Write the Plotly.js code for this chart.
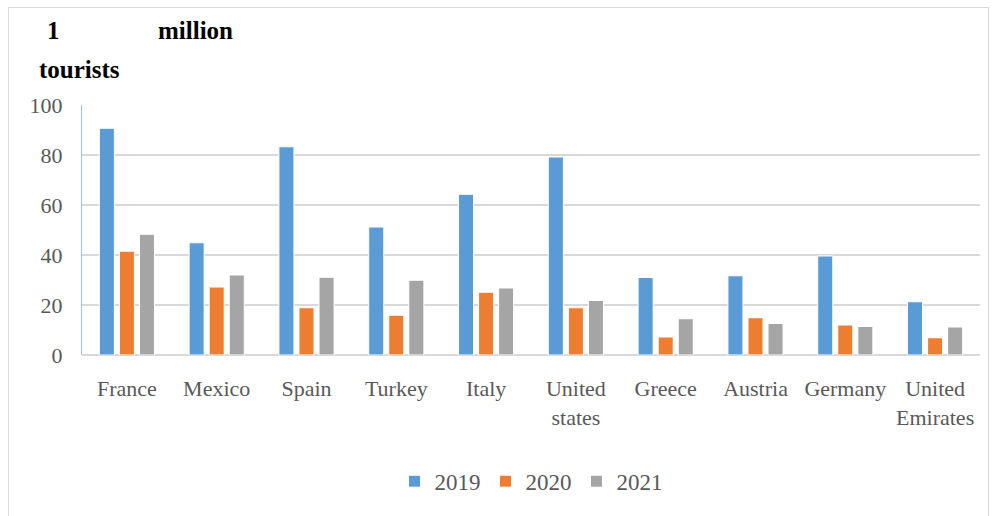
<!DOCTYPE html>
<html>
<head>
<meta charset="utf-8">
<script src="https://cdn.plot.ly/plotly-3.0.1.min.js"></script>
<style>
html,body{margin:0;padding:0;background:#fff;}
#wrap{position:relative;width:997px;height:516px;overflow:hidden;}
#frame{position:absolute;left:8px;top:7px;width:981px;height:520px;border:1.5px solid #d9d9d9;box-sizing:border-box;pointer-events:none;}
#chart{position:absolute;left:0;top:0;width:997px;height:516px;}
</style>
</head>
<body>
<div id="wrap"><div id="chart"></div><div id="frame"></div></div>
<script>
const categories = ["France","Mexico","Spain","Turkey","Italy","United<br>states","Greece","Austria","Germany","United<br>Emirates"];
const years = ["2019","2020","2021"];
const v2019 = [90.7, 44.9, 83.3, 51.2, 64.3, 79.2, 31.0, 31.7, 39.6, 21.3];
const v2020 = [41.5, 27.2, 18.9, 15.9, 25.1, 18.9, 7.2, 14.9, 12.0, 6.9];
const v2021 = [48.3, 32.0, 31.1, 29.9, 26.8, 21.8, 14.5, 12.6, 11.4, 11.2];
const yTicks = [0, 20, 40, 60, 80, 100];
const colors = ["#5b9bd5", "#ed7d31", "#a5a5a5"];
const SERIF = "Liberation Serif";

const series = [v2019, v2020, v2021];
const data = series.map((vals, i) => ({
  type: "bar",
  name: years[i],
  x: categories,
  y: vals,
  marker: {color: colors[i], line: {color: "#ffffff", width: 1}},
  hoverinfo: "skip"
}));

const layout = {
  width: 997, height: 516,
  margin: {l: 82, r: 17, t: 105, b: 161},
  paper_bgcolor: "#ffffff",
  plot_bgcolor: "#ffffff",
  bargap: 0.33,
  bargroupgap: 0.25,
  font: {family: SERIF, color: "#595959", size: 22},
  xaxis: {
    type: "category",
    showgrid: false,
    showline: false,
    zeroline: false,
    ticks: "",
    tickfont: {family: SERIF, size: 22, color: "#595959"},
    ticklabelstandoff: 18
  },
  yaxis: {
    range: [0, 100],
    tickvals: yTicks,
    ticktext: yTicks.map(String),
    showgrid: true,
    gridcolor: "#d9d9d9",
    gridwidth: 1.5,
    zeroline: true,
    zerolinecolor: "#d9d9d9",
    zerolinewidth: 1.5,
    showline: true,
    linecolor: "#9dc3e6",
    linewidth: 1,
    ticks: "",
    tickfont: {family: SERIF, size: 22, color: "#595959"},
    ticklabelstandoff: 14
  },
  legend: {
    orientation: "h",
    x: 0.5, xanchor: "center",
    y: -0.505, yanchor: "middle",
    font: {family: SERIF, size: 23, color: "#595959"},
    itemwidth: 30,
    traceorder: "normal"
  },
  annotations: [
    {text: "<b>1</b>", xref: "paper", yref: "paper", x: (45-82)/898, y: (355-31)/250, xanchor: "left", yanchor: "middle", showarrow: false, font: {size: 25, color: "#000000", family: SERIF}},
    {text: "<b>million</b>", xref: "paper", yref: "paper", x: (156-82)/898, y: (355-31)/250, xanchor: "left", yanchor: "middle", showarrow: false, font: {size: 25, color: "#000000", family: SERIF}},
    {text: "<b>tourists</b>", xref: "paper", yref: "paper", x: (37-82)/898, y: (355-69)/250, xanchor: "left", yanchor: "middle", showarrow: false, font: {size: 25, color: "#000000", family: SERIF}}
  ],
  showlegend: true
};

Plotly.newPlot("chart", data, layout, {displayModeBar: false, staticPlot: true});
</script>
</body>
</html>
